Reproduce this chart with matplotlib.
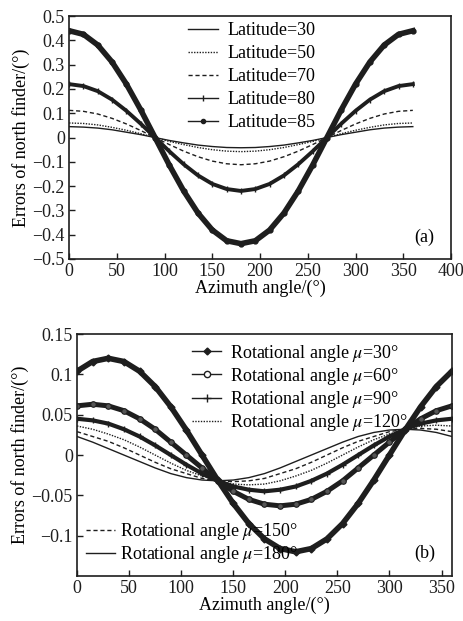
import numpy as np
import matplotlib.pyplot as plt

plt.rcParams["font.family"] = ["Liberation Serif", "DejaVu Serif"]
plt.rcParams["mathtext.fontset"] = "stix"
plt.rcParams["font.size"] = 13

azimuth = [0, 15, 30, 45, 60, 75, 90, 105, 120, 135, 150, 165, 180,
           195, 210, 225, 240, 255, 270, 285, 300, 315, 330, 345, 360]

# panel (a): latitude
lat30 = [0.045, 0.043, 0.039, 0.032, 0.022, 0.012, 0.000, -0.012, -0.022, -0.031, -0.037, -0.041, -0.042,
         -0.041, -0.037, -0.031, -0.022, -0.012, 0.000, 0.012, 0.022, 0.032, 0.039, 0.043, 0.045]
lat50 = [0.060, 0.058, 0.052, 0.042, 0.030, 0.016, 0.000, -0.016, -0.029, -0.041, -0.050, -0.056, -0.058,
         -0.056, -0.050, -0.041, -0.029, -0.016, 0.000, 0.016, 0.030, 0.042, 0.052, 0.058, 0.060]
lat70 = [0.112, 0.108, 0.097, 0.079, 0.056, 0.029, 0.000, -0.029, -0.056, -0.079, -0.097, -0.108, -0.112,
         -0.108, -0.097, -0.079, -0.056, -0.029, 0.000, 0.029, 0.056, 0.079, 0.097, 0.108, 0.112]
lat80 = [0.220, 0.212, 0.191, 0.156, 0.110, 0.057, 0.000, -0.057, -0.110, -0.156, -0.191, -0.212, -0.220,
         -0.212, -0.191, -0.156, -0.110, -0.057, 0.000, 0.057, 0.110, 0.156, 0.191, 0.212, 0.220]
lat85 = [0.440, 0.425, 0.381, 0.311, 0.220, 0.114, 0.000, -0.114, -0.220, -0.311, -0.381, -0.425, -0.437,
         -0.425, -0.381, -0.311, -0.220, -0.114, 0.000, 0.114, 0.220, 0.311, 0.381, 0.425, 0.440]

# panel (b): rotational angle mu
mu30 = [0.104, 0.116, 0.120, 0.116, 0.104, 0.085, 0.060, 0.031, 0.000, -0.031, -0.060, -0.085, -0.104,
        -0.116, -0.120, -0.116, -0.104, -0.085, -0.060, -0.031, 0.000, 0.031, 0.060, 0.085, 0.104]
mu60 = [0.061, 0.063, 0.061, 0.055, 0.045, 0.032, 0.016, 0.000, -0.016, -0.032, -0.045, -0.055, -0.061,
        -0.063, -0.061, -0.055, -0.045, -0.032, -0.016, 0.000, 0.016, 0.032, 0.045, 0.055, 0.061]
mu90 = [0.045, 0.043, 0.039, 0.032, 0.023, 0.012, 0.000, -0.012, -0.023, -0.032, -0.039, -0.043, -0.045,
        -0.043, -0.039, -0.032, -0.023, -0.012, 0.000, 0.012, 0.023, 0.032, 0.039, 0.043, 0.045]
mu120 = [0.036, 0.032, 0.026, 0.019, 0.010, 0.000, -0.010, -0.019, -0.026, -0.032, -0.036, -0.037, -0.036,
         -0.032, -0.026, -0.019, -0.010, 0.000, 0.010, 0.019, 0.026, 0.032, 0.036, 0.037, 0.036]
mu150 = [0.029, 0.023, 0.017, 0.009, 0.000, -0.009, -0.017, -0.023, -0.029, -0.032, -0.033, -0.032, -0.029,
         -0.023, -0.017, -0.009, 0.000, 0.009, 0.017, 0.023, 0.029, 0.032, 0.033, 0.032, 0.029]
mu180 = [0.023, 0.016, 0.008, 0.000, -0.008, -0.016, -0.023, -0.028, -0.031, -0.032, -0.031, -0.028, -0.023,
         -0.016, -0.008, 0.000, 0.008, 0.016, 0.023, 0.028, 0.031, 0.032, 0.031, 0.028, 0.023]

lat_labels = ["Latitude=30", "Latitude=50", "Latitude=70", "Latitude=80", "Latitude=85"]
mu_labels = ["Rotational angle $\\mu$=30\u00b0", "Rotational angle $\\mu$=60\u00b0",
             "Rotational angle $\\mu$=90\u00b0", "Rotational angle $\\mu$=120\u00b0",
             "Rotational angle $\\mu$=150\u00b0", "Rotational angle $\\mu$=180\u00b0"]

a_xticks = [0, 50, 100, 150, 200, 250, 300, 350, 400]
a_yticks = [0.5, 0.4, 0.3, 0.2, 0.1, 0, -0.1, -0.2, -0.3, -0.4, -0.5]
a_ylabels = ["0.5", "0.4", "0.3", "0.2", "0.1", "0", "\u22120.1", "\u22120.2",
             "\u22120.3", "\u22120.4", "\u22120.5"]
b_xticks = [0, 50, 100, 150, 200, 250, 300, 350]
b_yticks = [0.15, 0.1, 0.05, 0, -0.05, -0.1]
b_ylabels = ["0.15", "0.1", "0.05", "0", "\u22120.05", "\u22120.1"]

INK = "#1e1e1e"
DOT = (0, (1, 1))
DASH = (0, (3, 2))

fig = plt.figure(figsize=(4.64, 6.21), dpi=100)
ax1 = fig.add_axes([0.149, 0.583, 0.823, 0.391])
ax2 = fig.add_axes([0.166, 0.0725, 0.808, 0.3895])

# ---- panel (a) ----
ax1.plot(azimuth, lat30, color=INK, lw=1.0)
ax1.plot(azimuth, lat50, color=INK, lw=1.0, ls=DOT)
ax1.plot(azimuth, lat70, color=INK, lw=1.0, ls=DASH)
ax1.plot(azimuth, lat80, color=INK, lw=2.8, marker="|", ms=4, mew=1)
ax1.plot(azimuth, lat85, color=INK, lw=4.0, marker="o", ms=3.5)

ha = [ax1.plot([], [], color=INK, lw=1.0)[0],
      ax1.plot([], [], color=INK, lw=1.0, ls=DOT)[0],
      ax1.plot([], [], color=INK, lw=1.0, ls=DASH)[0],
      ax1.plot([], [], color=INK, lw=1.0, marker="|", ms=5)[0],
      ax1.plot([], [], color=INK, lw=1.0, marker="o", ms=3)[0]]

ax1.set_xlim(0, 400)
ax1.set_ylim(-0.5, 0.5)
ax1.set_xticks(a_xticks)
ax1.set_yticks(a_yticks)
ax1.set_yticklabels(a_ylabels)
ax1.set_xlabel("Azimuth angle/(\u00b0)", labelpad=0)
ax1.set_ylabel("Errors of north finder/(\u00b0)", labelpad=2)
ax1.legend(ha, lat_labels, loc="upper left", bbox_to_anchor=(0.31, 0.975), frameon=False,
           handlelength=1.7, handletextpad=0.5, labelspacing=0.33,
           borderpad=0, borderaxespad=0)
ax1.text(0.955, 0.09, "(a)", transform=ax1.transAxes, ha="right", va="center")

# ---- panel (b) ----
ax2.plot(azimuth, mu180, color=INK, lw=1.0)
ax2.plot(azimuth, mu150, color=INK, lw=1.0, ls=DASH)
ax2.plot(azimuth, mu120, color=INK, lw=1.0, ls=DOT)
ax2.plot(azimuth, mu90, color=INK, lw=3.0, marker="+", ms=5, mew=1)
ax2.plot(azimuth, mu60, color=INK, lw=3.6, marker="o", ms=4, mfc="#555555", mew=0.8)
ax2.plot(azimuth, mu30, color=INK, lw=4.0, marker="D", ms=3.5)

hb = [ax2.plot([], [], color=INK, lw=1.0, marker="D", ms=3.5)[0],
      ax2.plot([], [], color=INK, lw=1.0, marker="o", ms=4.5, mfc="white")[0],
      ax2.plot([], [], color=INK, lw=1.0, marker="+", ms=6)[0],
      ax2.plot([], [], color=INK, lw=1.0, ls=DOT)[0],
      ax2.plot([], [], color=INK, lw=1.0, ls=DASH)[0],
      ax2.plot([], [], color=INK, lw=1.0)[0]]

ax2.set_xlim(0, 360)
ax2.set_ylim(-0.15, 0.15)
ax2.set_xticks(b_xticks)
ax2.set_yticks(b_yticks)
ax2.set_yticklabels(b_ylabels)
ax2.set_xlabel("Azimuth angle/(\u00b0)", labelpad=0)
ax2.set_ylabel("Errors of north finder/(\u00b0)", labelpad=2)

leg2 = ax2.legend(hb[:4], mu_labels[:4],
                  loc="upper left", bbox_to_anchor=(0.307, 0.965), frameon=False,
                  handlelength=1.6, handletextpad=0.5, labelspacing=0.12,
                  borderpad=0, borderaxespad=0)
ax2.add_artist(leg2)
ax2.legend(hb[4:], mu_labels[4:],
           loc="lower left", bbox_to_anchor=(0.024, 0.045), frameon=False,
           handlelength=1.6, handletextpad=0.3, labelspacing=0.1,
           borderpad=0, borderaxespad=0)
ax2.text(0.955, 0.095, "(b)", transform=ax2.transAxes, ha="right", va="center")

for ax in (ax1, ax2):
    ax.tick_params(direction="in", length=4, width=1, colors=INK, pad=3)
    for s in ax.spines.values():
        s.set_linewidth(1.2)
        s.set_color(INK)

fig.savefig("out.png", dpi=100)
